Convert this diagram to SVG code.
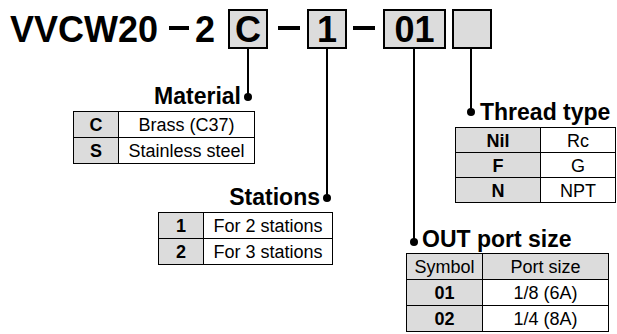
<svg xmlns="http://www.w3.org/2000/svg" width="617" height="334" viewBox="0 0 617 334">
<style>
.t{font-family:"Liberation Sans",Arial,sans-serif;fill:#000}
.title{font-size:36px;font-weight:bold}
.lbl{font-size:23px;font-weight:bold}
.k{font-size:18px;font-weight:bold;text-anchor:middle}
.v{font-size:18px;text-anchor:middle}
.box{fill:#dcdcdc;stroke:#000;stroke-width:2}
.kc{fill:#dcdcdc;stroke:#000;stroke-width:1}
.vc{fill:#fff;stroke:#000;stroke-width:1}
.ln{stroke:#000;stroke-width:2;fill:none}
.dash{stroke:#000;stroke-width:4}
</style>
<g id="code">
<text class="t title" x="10" y="42">VVCW20</text>
<line class="dash" x1="169" y1="28" x2="189" y2="28"/>
<text class="t title" x="195" y="42">2</text>
<rect class="box" x="229" y="10" width="38" height="38"/>
<text class="t title" x="248" y="42" text-anchor="middle">C</text>
<line class="dash" x1="278" y1="28" x2="300" y2="28"/>
<rect class="box" x="308" y="10" width="38" height="38"/>
<text class="t title" x="327" y="42" text-anchor="middle">1</text>
<line class="dash" x1="353" y1="28" x2="375" y2="28"/>
<rect class="box" x="384" y="10" width="61" height="38"/>
<text class="t title" x="414.5" y="42" text-anchor="middle">01</text>
<rect class="box" x="453" y="10" width="38" height="38"/>
</g>
<g id="connectors">
<line class="ln" x1="248" y1="48" x2="248" y2="97"/>
<circle cx="248" cy="97" r="4"/>
<line class="ln" x1="327" y1="48" x2="327" y2="198"/>
<circle cx="327" cy="198" r="4"/>
<line class="ln" x1="414" y1="48" x2="414" y2="242"/>
<circle cx="414" cy="242" r="4"/>
<line class="ln" x1="471" y1="48" x2="471" y2="112"/>
<circle cx="471" cy="112" r="4"/>
</g>
<g id="material">
<text class="t lbl" x="241" y="104" text-anchor="end">Material</text>
<rect class="kc" x="73.5" y="111.5" width="45" height="26"/>
<rect class="vc" x="118.5" y="111.5" width="136" height="26"/>
<rect class="kc" x="73.5" y="137.5" width="45" height="26"/>
<rect class="vc" x="118.5" y="137.5" width="136" height="26"/>
<text class="t k" x="96" y="131">C</text>
<text class="t v" x="186.5" y="131">Brass (C37)</text>
<text class="t k" x="96" y="157">S</text>
<text class="t v" x="186.5" y="157">Stainless steel</text>
</g>
<g id="stations">
<text class="t lbl" x="320" y="205" text-anchor="end">Stations</text>
<rect class="kc" x="158.5" y="212.5" width="45" height="26"/>
<rect class="vc" x="203.5" y="212.5" width="129" height="26"/>
<rect class="kc" x="158.5" y="238.5" width="45" height="26"/>
<rect class="vc" x="203.5" y="238.5" width="129" height="26"/>
<text class="t k" x="181" y="232">1</text>
<text class="t v" x="268" y="232">For 2 stations</text>
<text class="t k" x="181" y="258">2</text>
<text class="t v" x="268" y="258">For 3 stations</text>
</g>
<g id="thread">
<text class="t lbl" x="480" y="120">Thread type</text>
<rect class="kc" x="455.5" y="127.5" width="85" height="25"/>
<rect class="vc" x="540.5" y="127.5" width="75" height="25"/>
<rect class="kc" x="455.5" y="152.5" width="85" height="25"/>
<rect class="vc" x="540.5" y="152.5" width="75" height="25"/>
<rect class="kc" x="455.5" y="177.5" width="85" height="25"/>
<rect class="vc" x="540.5" y="177.5" width="75" height="25"/>
<text class="t k" x="498" y="146.5">Nil</text>
<text class="t v" x="578" y="146.5">Rc</text>
<text class="t k" x="498" y="171.5">F</text>
<text class="t v" x="578" y="171.5">G</text>
<text class="t k" x="498" y="196.5">N</text>
<text class="t v" x="578" y="196.5">NPT</text>
</g>
<g id="outport">
<text class="t lbl" x="422" y="247">OUT port size</text>
<rect class="kc" x="406.5" y="253.5" width="76" height="26"/>
<rect class="kc" x="482.5" y="253.5" width="126" height="26"/>
<rect class="kc" x="406.5" y="279.5" width="76" height="26"/>
<rect class="vc" x="482.5" y="279.5" width="126" height="26"/>
<rect class="kc" x="406.5" y="305.5" width="76" height="26"/>
<rect class="vc" x="482.5" y="305.5" width="126" height="26"/>
<text class="t v" x="444.5" y="273">Symbol</text>
<text class="t v" x="545.5" y="273">Port size</text>
<text class="t k" x="444.5" y="299">01</text>
<text class="t v" x="545.5" y="299">1/8 (6A)</text>
<text class="t k" x="444.5" y="325">02</text>
<text class="t v" x="545.5" y="325">1/4 (8A)</text>
</g>
</svg>
